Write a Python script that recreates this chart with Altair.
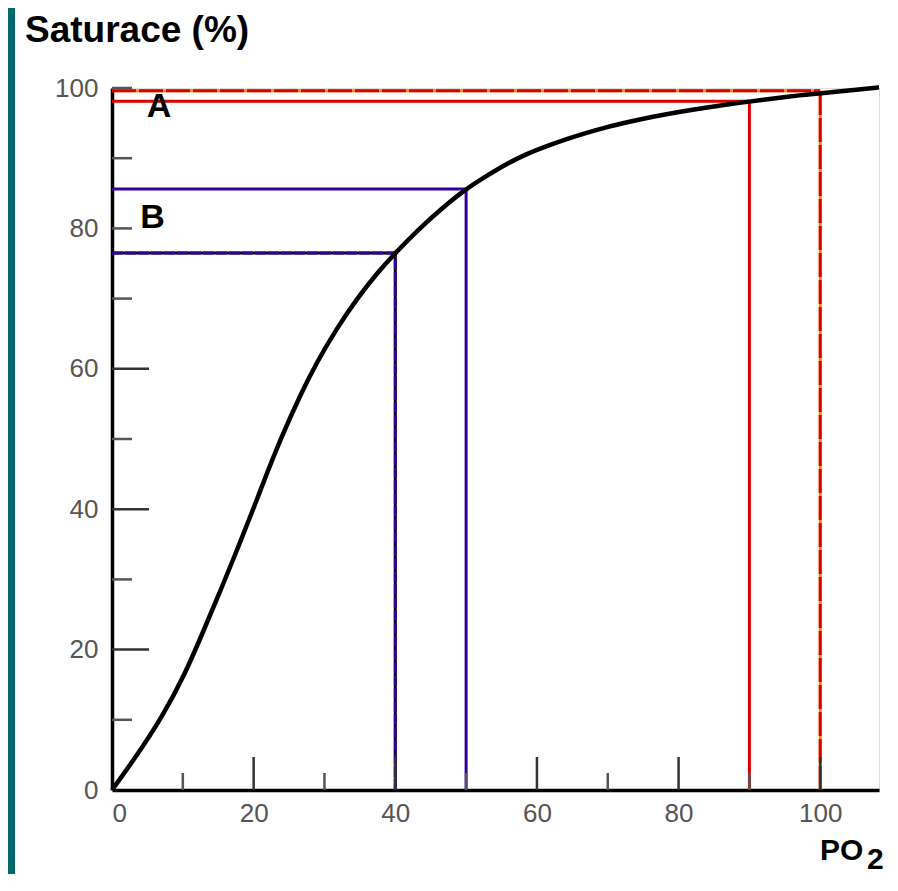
import altair as alt
import pandas as pd

# Oxygen dissociation curve
curve_po2 = [0, 3.3, 7.1, 10.4, 12.8, 15.2, 17.5, 19.9, 21.6, 23.8, 26.6, 28.9, 31.7, 34.6,
             37.4, 40.1, 43.1, 46.5, 49.8, 52.9, 55.7, 58.5, 61.3, 64.1, 66.9, 69.7, 73.1,
             76.3, 80.1, 83.7, 87.9, 91.7, 97.3, 101.5, 105.7, 108.3]
curve_sat = [0, 4.6, 10.4, 16.7, 22.4, 28.1, 33.8, 39.9, 44.4, 50.0, 56.3, 60.9, 65.7, 70.0,
             73.6, 76.6, 79.7, 82.8, 85.5, 87.5, 89.2, 90.6, 91.7, 92.7, 93.6, 94.4, 95.2,
             95.9, 96.6, 97.2, 97.8, 98.3, 99.0, 99.4, 99.8, 100.1]

# Reference read-offs (PO2, saturation)
ref_po2 = [40, 50, 90, 100]
ref_sat = [76.5, 85.6, 98.1, 99.6]
ref_kind = ["blue_dash", "blue", "red", "red_dash"]

# Point labels
label_text = ["A", "B"]
label_po2 = [4.9, 4.0]
label_sat = [95.9, 80.1]

x_ticks = [0, 20, 40, 60, 80, 100]
y_ticks = [0, 20, 40, 60, 80, 100]
x_major = [20, 40, 60, 80, 100]
x_minor = [10, 30, 50, 70, 90]
y_major = [20, 40, 60]
y_minor = [10, 30, 50, 70, 80, 90, 100]

W, H = 767, 702
xscale = alt.Scale(domain=[0, 108.3], nice=False, zero=False)
yscale = alt.Scale(domain=[0, 100], nice=False, zero=False)
FONT = "Liberation Sans"

xaxis = alt.Axis(values=x_ticks, title=None, grid=False, ticks=False, labelFontSize=26,
                 labelColor="#555555", labelFont=FONT, labelPadding=10, domainColor="black",
                 domainWidth=3.5)
yaxis = alt.Axis(values=y_ticks, title=None, grid=False, ticks=False, labelFontSize=26,
                 labelColor="#555555", labelFont=FONT, labelPadding=14, domainColor="black",
                 domainWidth=3.5)

def X(f):
    return alt.X(f, type="quantitative", scale=xscale, axis=xaxis)

def Y(f):
    return alt.Y(f, type="quantitative", scale=yscale, axis=yaxis)

curve_df = pd.DataFrame({"po2": curve_po2, "sat": curve_sat})
ref_df = pd.DataFrame({"po2": ref_po2, "sat": ref_sat, "kind": ref_kind, "zero": 0})

layers = []

def ref_lines(kind, color, width, dash=None, under=None):
    d = ref_df[ref_df.kind == kind]
    out = []
    specs = []
    if under is not None:
        specs.append((under, None))
    specs.append((color, dash))
    for col, ds in specs:
        kw = dict(color=col, strokeWidth=width)
        if ds:
            kw["strokeDash"] = ds
        h = alt.Chart(d).mark_rule(**kw).encode(x=X("zero"), x2="po2:Q", y=Y("sat"))
        v = alt.Chart(d).mark_rule(**kw).encode(x=X("po2"), y=Y("zero"), y2="sat:Q")
        out += [h, v]
    return out

layers += ref_lines("blue_dash", "#330099", 3, dash=[11, 2], under="#000000")
layers += ref_lines("blue", "#330099", 3)
layers += ref_lines("red", "#dd0000", 3)
layers += ref_lines("red_dash", "#dd0000", 3, dash=[24, 3], under="#ff8800")

# inward ticks
for vals, ln, col in [(x_major, 33, "#333333"), (x_minor, 17, "#555555")]:
    layers.append(alt.Chart(pd.DataFrame({"v": vals})).mark_rule(color=col, strokeWidth=2.5)
                  .encode(x=X("v"), y=alt.value(H), y2=alt.value(H - ln)))
for vals, ln, col in [(y_major, 37, "#333333"), (y_minor, 20, "#555555")]:
    layers.append(alt.Chart(pd.DataFrame({"v": vals})).mark_rule(color=col, strokeWidth=2.5)
                  .encode(y=Y("v"), x=alt.value(0), x2=alt.value(ln)))

curve = alt.Chart(curve_df).mark_line(color="black", strokeWidth=4.5, interpolate="basis").encode(
    x=X("po2"), y=Y("sat"))
layers.append(curve)

lab_df = pd.DataFrame({"t": label_text, "po2": label_po2, "sat": label_sat})
layers.append(alt.Chart(lab_df).mark_text(font=FONT, fontSize=34, fontWeight="bold", color="black",
                                          align="left", baseline="alphabetic")
              .encode(x=X("po2"), y=Y("sat"), text="t:N"))

def ann(text, x, y, size):
    return alt.Chart(pd.DataFrame({"t": [text]})).mark_text(
        font=FONT, fontSize=size, fontWeight="bold", color="black", align="left",
        baseline="alphabetic").encode(x=alt.value(x), y=alt.value(y), text="t:N")

layers.append(ann("Saturace (%)", -87, -46, 37))
layers.append(ann("PO", 708, 772, 30))
layers.append(ann("2", 755, 781, 30))

teal = alt.Chart(pd.DataFrame({"a": [0]})).mark_rect(color="#006868").encode(
    x=alt.value(-104), x2=alt.value(-97), y=alt.value(-80), y2=alt.value(786))
layers.append(teal)

chart = alt.layer(*layers).properties(
    width=W, height=H,
    padding={"left": 104, "top": 80, "right": 9, "bottom": 84},
    autosize=alt.AutoSizeParams(type="none"),
).configure_view(stroke=None).configure(background="white")

chart.save("out.html", embed_options={"renderer": "svg", "actions": False})
